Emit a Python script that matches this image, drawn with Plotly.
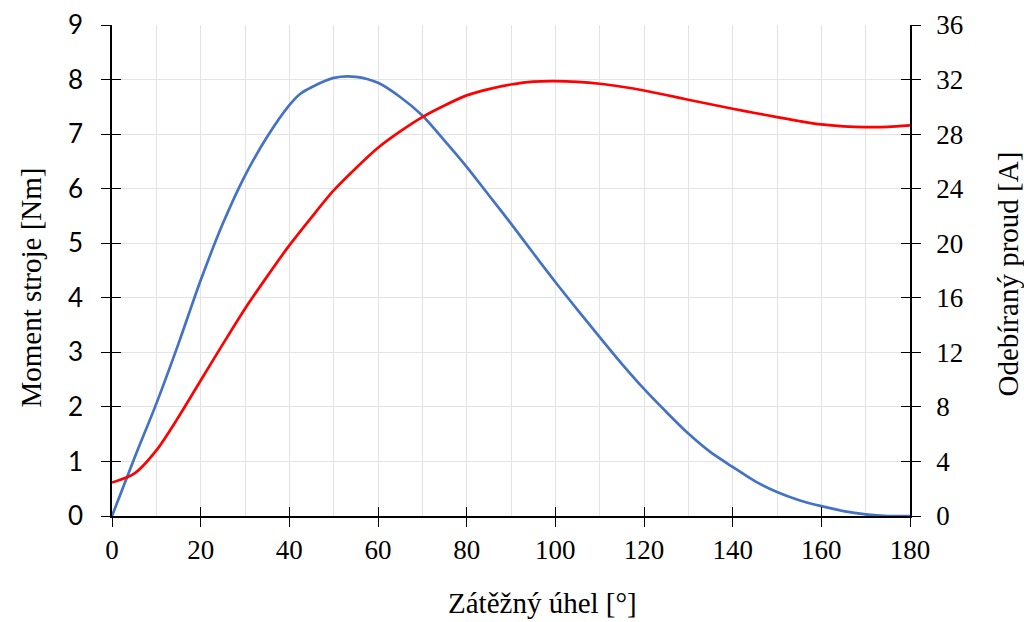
import plotly.graph_objects as go

angle = [0, 5, 10, 15, 20, 25, 30, 35, 40, 42.5, 45, 50, 55, 60, 65, 70, 75, 80, 85, 90,
         95, 100, 105, 110, 115, 120, 125, 130, 135, 140, 145, 150, 155, 160, 165, 170, 175, 180]
moment = [0.0, 1.05, 2.06, 3.16, 4.32, 5.36, 6.24, 6.95, 7.53, 7.74, 7.86, 8.03, 8.05, 7.94,
          7.68, 7.34, 6.88, 6.40, 5.88, 5.36, 4.82, 4.29, 3.78, 3.28, 2.79, 2.33, 1.91, 1.51,
          1.17, 0.90, 0.64, 0.44, 0.29, 0.18, 0.09, 0.03, 0.0, 0.0]

angle_i = [0, 5, 10, 15, 20, 25, 30, 35, 40, 45, 50, 55, 60, 65, 70, 75, 80, 85, 90,
           95, 100, 105, 110, 115, 120, 125, 130, 135, 140, 145, 150, 155, 160, 165, 170, 175, 180]
current = [2.45, 3.10, 4.81, 7.26, 9.94, 12.6, 15.2, 17.57, 19.84, 21.9, 23.87, 25.5, 27.0,
           28.2, 29.25, 30.1, 30.84, 31.3, 31.64, 31.85, 31.89, 31.83, 31.69, 31.47, 31.2,
           30.87, 30.52, 30.19, 29.86, 29.55, 29.25, 28.96, 28.71, 28.57, 28.51, 28.53, 28.64]

x_title = "Zátěžný úhel [°]"
y1_title = "Moment stroje [Nm]"
y2_title = "Odebíraný proud [A]"

SERIF = "Liberation Serif"
SANS = "Lato"
GRID = "#e3e3e3"
TICK_SIZE = 27
TITLE_SIZE = 29

fig = go.Figure()
fig.add_trace(go.Scatter(x=angle, y=moment, mode="lines", line=dict(color="#4472C4", width=2.7, shape="spline", smoothing=0.8),
                         xaxis="x", yaxis="y", showlegend=False, hoverinfo="skip"))
fig.add_trace(go.Scatter(x=angle_i, y=current, mode="lines", line=dict(color="#FF0000", width=2.7, shape="spline", smoothing=0.8),
                         xaxis="x", yaxis="y2", showlegend=False, hoverinfo="skip"))
# helper empty traces so inside-tick overlay axes get drawn
fig.add_trace(go.Scatter(x=[None], y=[None], xaxis="x2", yaxis="y3", showlegend=False, hoverinfo="skip"))
fig.add_trace(go.Scatter(x=[None], y=[None], xaxis="x2", yaxis="y4", showlegend=False, hoverinfo="skip"))

fig.update_layout(
    width=1024, height=622,
    margin=dict(l=112, r=114, t=25, b=106, autoexpand=False),
    plot_bgcolor="white", paper_bgcolor="white",
    xaxis=dict(range=[0, 180], tick0=0, dtick=20, ticks="outside", ticklen=9, tickwidth=1.3, tickcolor="black",
               showline=True, linecolor="black", linewidth=1.5, showgrid=True, gridcolor=GRID, gridwidth=1.2,
               minor=dict(dtick=10, showgrid=True, gridcolor=GRID, gridwidth=1.2, ticks=""),
               zeroline=False, tickfont=dict(family=SERIF, size=TICK_SIZE, color="black"), automargin=False),
    xaxis2=dict(range=[0, 180], tick0=0, dtick=20, ticks="inside", ticklen=9, tickwidth=1.3, tickcolor="black",
                overlaying="x", anchor="y3", side="bottom", showticklabels=False, showgrid=False, zeroline=False,
                showline=False, automargin=False),
    yaxis=dict(range=[0, 9], dtick=1, ticks="outside", ticklen=9, tickwidth=1.3, tickcolor="black",
               showline=True, linecolor="black", linewidth=1.5, showgrid=True, gridcolor=GRID, gridwidth=1.2,
               zeroline=False, tickfont=dict(family=SANS, size=TICK_SIZE - 1, color="black"), ticklabelstandoff=13,
               automargin=False),
    yaxis2=dict(range=[0, 36], dtick=4, ticks="outside", ticklen=9, tickwidth=1.3, tickcolor="black",
                overlaying="y", side="right", anchor="x", showline=True, linecolor="black", linewidth=1.5,
                showgrid=False, zeroline=False, tickfont=dict(family=SERIF, size=TICK_SIZE, color="black"),
                ticklabelstandoff=10, automargin=False),
    yaxis3=dict(range=[0, 9], dtick=1, ticks="inside", ticklen=9, tickwidth=1.3, tickcolor="black",
                overlaying="y", side="left", anchor="x2", showticklabels=False, showgrid=False, zeroline=False,
                showline=False, automargin=False),
    yaxis4=dict(range=[0, 36], dtick=4, ticks="inside", ticklen=9, tickwidth=1.3, tickcolor="black",
                overlaying="y", side="right", anchor="x2", showticklabels=False, showgrid=False, zeroline=False,
                showline=False, automargin=False),
    annotations=[
        dict(text=x_title, xref="paper", yref="paper", x=0.5, y=0, xshift=31, yshift=-87,
             showarrow=False, font=dict(family=SERIF, size=TITLE_SIZE, color="black"),
             xanchor="center", yanchor="middle"),
        dict(text=y1_title, xref="paper", yref="paper", x=0, y=0.5, xshift=-82, yshift=-17,
             showarrow=False, textangle=-90, font=dict(family=SERIF, size=TITLE_SIZE, color="black"),
             xanchor="center", yanchor="middle"),
        dict(text=y2_title, xref="paper", yref="paper", x=1, y=0.5, xshift=97, yshift=-4,
             showarrow=False, textangle=-90, font=dict(family=SERIF, size=TITLE_SIZE, color="black"),
             xanchor="center", yanchor="middle"),
    ],
)

fig.write_html("out.html", config={"displayModeBar": False},
               post_script="document.body.style.margin='0';document.body.style.overflow='hidden';")
